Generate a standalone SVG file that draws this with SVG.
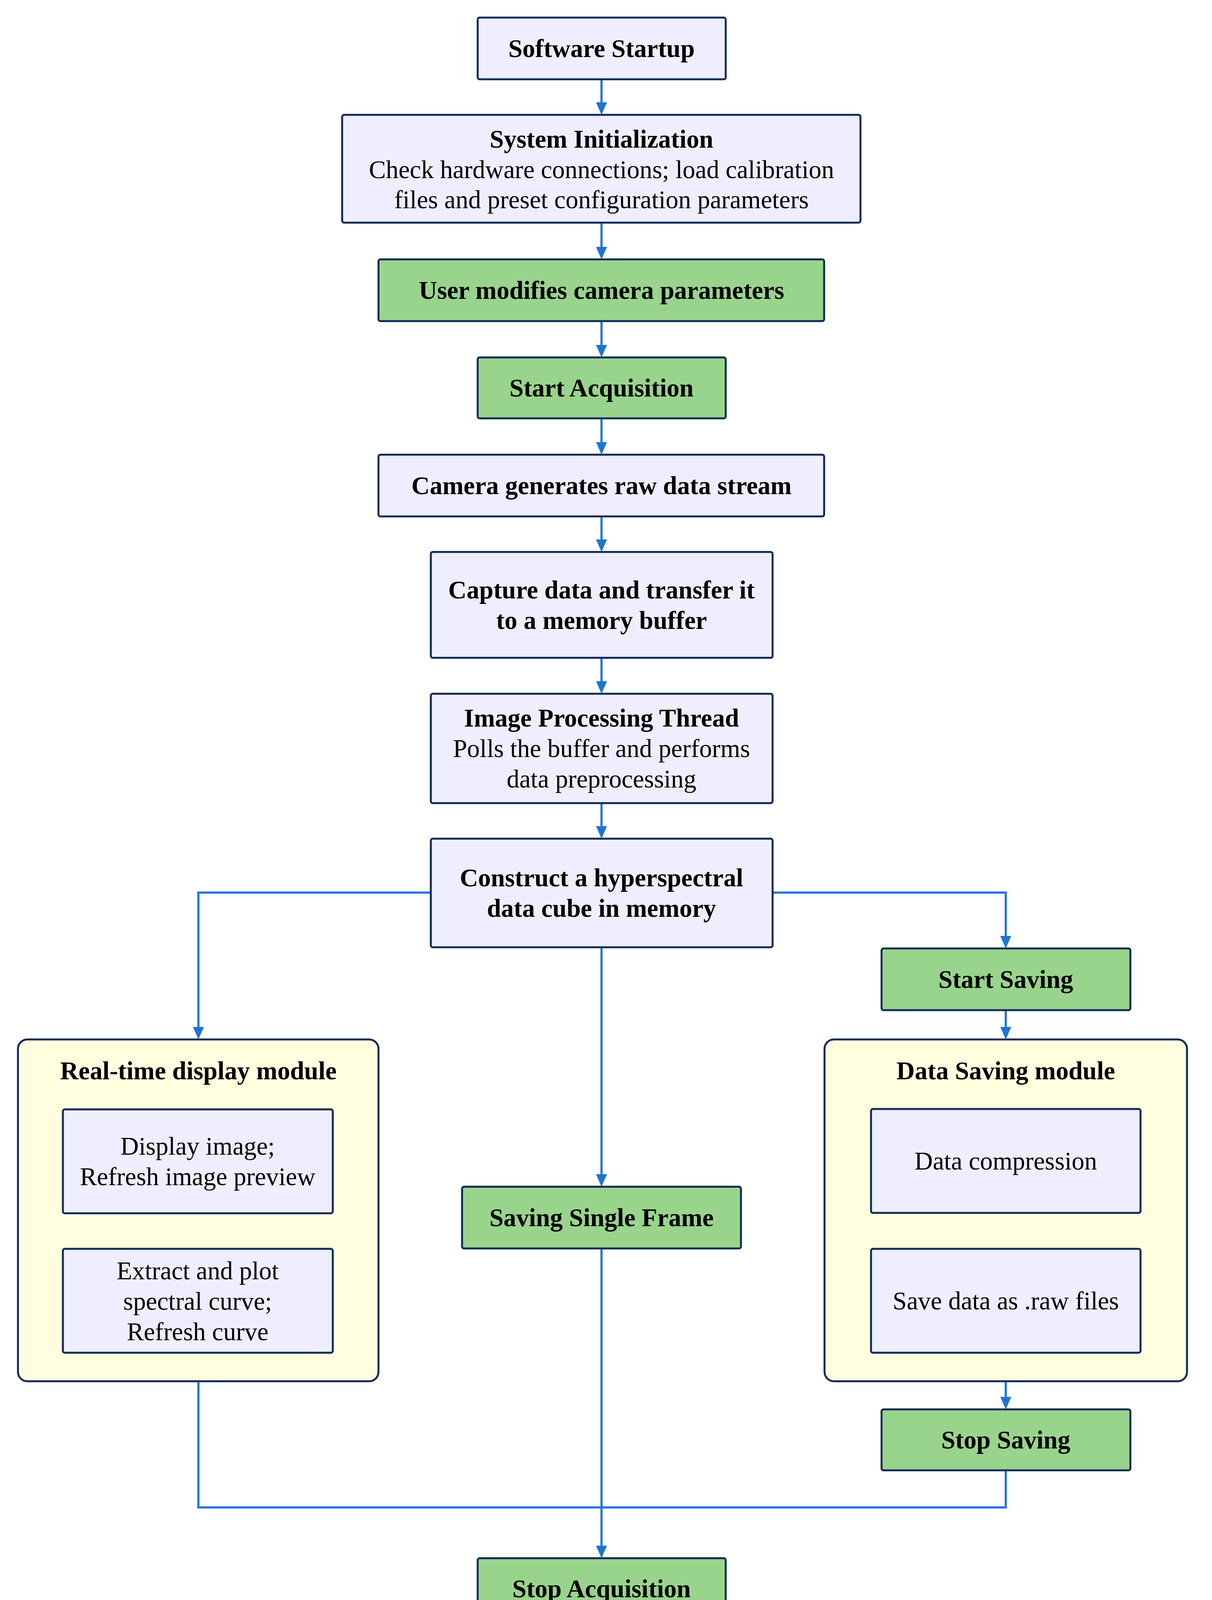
<svg xmlns="http://www.w3.org/2000/svg" width="3103" height="4198" viewBox="0 0 3103 4198">
<defs>
<marker id="ah" markerUnits="userSpaceOnUse" markerWidth="32" markerHeight="30" viewBox="0 0 32 30" refX="22" refY="15" orient="auto">
<path d="M0,1 L32,15 L0,29 z" fill="#1C74D4"/>
</marker>
</defs>
<style>
.box{stroke:#0E2A55;stroke-width:5}
.p{fill:#EEEEFF}
.g{fill:#99D48C}
.y{fill:#FFFEDE}
.t{font-family:"Liberation Serif","Times New Roman",serif;font-size:65px;fill:#000;text-anchor:middle}
.b{font-weight:bold}
.c{fill:none;stroke:#1C74D4;stroke-width:5.5}
</style>
<rect width="3103" height="4198" fill="#FFFFFF"/>
<g id="connectors">
<path class="c" d="M1540 203 V284" marker-end="url(#ah)"/>
<path class="c" d="M1540 570 V654" marker-end="url(#ah)"/>
<path class="c" d="M1540 822 V905" marker-end="url(#ah)"/>
<path class="c" d="M1540 1071 V1154" marker-end="url(#ah)"/>
<path class="c" d="M1540 1322 V1403" marker-end="url(#ah)"/>
<path class="c" d="M1540 1684 V1766" marker-end="url(#ah)"/>
<path class="c" d="M1540 2056 V2137" marker-end="url(#ah)"/>
<path class="c" d="M1103 2285 H508 V2651" marker-end="url(#ah)"/>
<path class="c" d="M1978 2285 H2575 V2418" marker-end="url(#ah)"/>
<path class="c" d="M1540 2425 V3028" marker-end="url(#ah)"/>
<path class="c" d="M2575 2586 V2651" marker-end="url(#ah)"/>
<path class="c" d="M2575 3536 V3598" marker-end="url(#ah)"/>
<path class="c" d="M508 3536 V3859 H2575 V3764"/>
<path class="c" d="M1540 3196 V3979" marker-end="url(#ah)"/>
</g>
<g id="n-software-startup">
<rect class="box p" x="1223" y="45" width="635" height="158" rx="5"/>
<text class="t b" x="1540" y="146">Software Startup</text>
</g>
<g id="n-system-init">
<rect class="box p" x="876" y="294" width="1327" height="276" rx="5"/>
<text class="t b" x="1540" y="378">System Initialization</text>
<text class="t" x="1540" y="456">Check hardware connections; load calibration</text>
<text class="t" x="1540" y="533">files and preset configuration parameters</text>
</g>
<g id="n-user-modifies">
<rect class="box g" x="969" y="664" width="1141" height="158" rx="5"/>
<text class="t b" x="1540" y="765">User modifies camera parameters</text>
</g>
<g id="n-start-acq">
<rect class="box g" x="1223" y="915" width="635" height="156" rx="5"/>
<text class="t b" x="1540" y="1015">Start Acquisition</text>
</g>
<g id="n-camera">
<rect class="box p" x="969" y="1164" width="1141" height="158" rx="5"/>
<text class="t b" x="1540" y="1265">Camera generates raw data stream</text>
</g>
<g id="n-capture">
<rect class="box p" x="1103" y="1413" width="875" height="271" rx="5"/>
<text class="t b" x="1540" y="1532">Capture data and transfer it</text>
<text class="t b" x="1540" y="1610">to a memory buffer</text>
</g>
<g id="n-image-proc">
<rect class="box p" x="1103" y="1776" width="875" height="280" rx="5"/>
<text class="t b" x="1540" y="1860">Image Processing Thread</text>
<text class="t" x="1540" y="1938">Polls the buffer and performs</text>
<text class="t" x="1540" y="2016">data preprocessing</text>
</g>
<g id="n-construct">
<rect class="box p" x="1103" y="2147" width="875" height="278" rx="5"/>
<text class="t b" x="1540" y="2269">Construct a hyperspectral</text>
<text class="t b" x="1540" y="2347">data cube in memory</text>
</g>
<g id="n-start-saving">
<rect class="box g" x="2257" y="2428" width="637" height="158" rx="5"/>
<text class="t b" x="2575" y="2529">Start Saving</text>
</g>
<g id="n-realtime-module">
<rect class="box y" x="46" y="2661" width="923" height="875" rx="24"/>
<text class="t b" x="508" y="2763">Real-time display module</text>
</g>
<g id="n-display-image">
<rect class="box p" x="161" y="2840" width="691" height="266" rx="5"/>
<text class="t" x="506" y="2956">Display image;</text>
<text class="t" x="506" y="3034">Refresh image preview</text>
</g>
<g id="n-extract">
<rect class="box p" x="161" y="3197" width="691" height="266" rx="5"/>
<text class="t" x="506" y="3275">Extract and plot</text>
<text class="t" x="506" y="3353">spectral curve;</text>
<text class="t" x="506" y="3431">Refresh curve</text>
</g>
<g id="n-saving-module">
<rect class="box y" x="2111" y="2661" width="928" height="875" rx="24"/>
<text class="t b" x="2575" y="2763">Data Saving module</text>
</g>
<g id="n-compression">
<rect class="box p" x="2230" y="2839" width="690" height="266" rx="5"/>
<text class="t" x="2575" y="2994">Data compression</text>
</g>
<g id="n-save-raw">
<rect class="box p" x="2230" y="3197" width="690" height="266" rx="5"/>
<text class="t" x="2575" y="3352">Save data as .raw files</text>
</g>
<g id="n-single-frame">
<rect class="box g" x="1183" y="3038" width="714" height="158" rx="5"/>
<text class="t b" x="1540" y="3139">Saving Single Frame</text>
</g>
<g id="n-stop-saving">
<rect class="box g" x="2257" y="3608" width="637" height="156" rx="5"/>
<text class="t b" x="2575" y="3708">Stop Saving</text>
</g>
<g id="n-stop-acq">
<rect class="box g" x="1223" y="3989" width="635" height="156" rx="5"/>
<text class="t b" x="1540" y="4089">Stop Acquisition</text>
</g>
</svg>
